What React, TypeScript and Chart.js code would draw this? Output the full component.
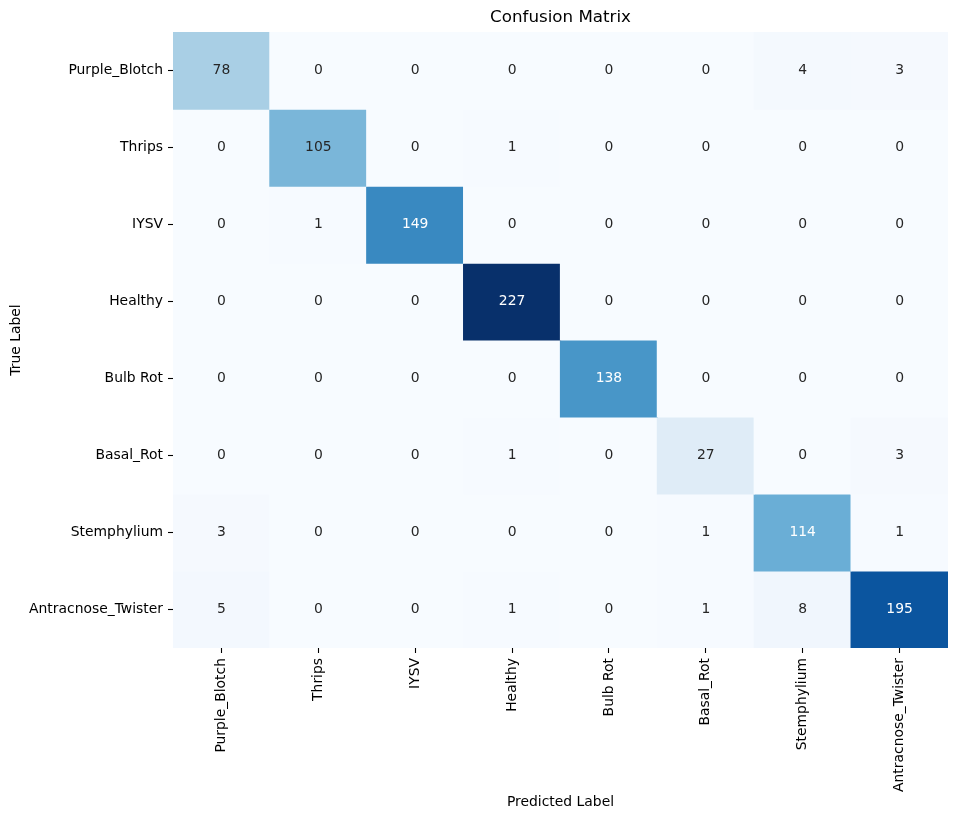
import React, { useEffect, useRef } from "react";
import { Chart, registerables } from "chart.js";

Chart.register(...registerables);

const rowLabels = ["Purple_Blotch", "Thrips", "IYSV", "Healthy", "Bulb Rot", "Basal_Rot", "Stemphylium", "Antracnose_Twister"];
const colLabels = ["Purple_Blotch", "Thrips", "IYSV", "Healthy", "Bulb Rot", "Basal_Rot", "Stemphylium", "Antracnose_Twister"];

const row0 = [78, 0, 0, 0, 0, 0, 4, 3];
const row1 = [0, 105, 0, 1, 0, 0, 0, 0];
const row2 = [0, 1, 149, 0, 0, 0, 0, 0];
const row3 = [0, 0, 0, 227, 0, 0, 0, 0];
const row4 = [0, 0, 0, 0, 138, 0, 0, 0];
const row5 = [0, 0, 0, 1, 0, 27, 0, 3];
const row6 = [3, 0, 0, 0, 0, 1, 114, 1];
const row7 = [5, 0, 0, 1, 0, 1, 8, 195];
const matrix = [row0, row1, row2, row3, row4, row5, row6, row7];

const titleText = "Confusion Matrix";
const xTitle = "Predicted Label";
const yTitle = "True Label";

const BLUES = [
  [0.9686, 0.9843, 1.0],
  [0.8706, 0.9216, 0.9686],
  [0.7765, 0.8588, 0.9373],
  [0.6196, 0.7922, 0.8824],
  [0.4196, 0.6824, 0.8392],
  [0.2588, 0.5725, 0.7765],
  [0.1294, 0.4431, 0.7098],
  [0.0314, 0.3176, 0.6118],
  [0.0314, 0.1882, 0.4196],
];

function blues(v: number): number[] {
  let idx = Math.floor(v * 256);
  if (idx > 255) idx = 255;
  if (idx < 0) idx = 0;
  const t = idx / 255;
  const p = t * (BLUES.length - 1);
  const i = Math.min(Math.floor(p), BLUES.length - 2);
  const f = p - i;
  return [0, 1, 2].map((k) => BLUES[i][k] + (BLUES[i + 1][k] - BLUES[i][k]) * f);
}

function toCss(c: number[]) {
  return `rgb(${Math.round(c[0] * 255)},${Math.round(c[1] * 255)},${Math.round(c[2] * 255)})`;
}

function luminance(c: number[]) {
  const l = c.map((x) => (x <= 0.03928 ? x / 12.92 : Math.pow((x + 0.055) / 1.055, 2.4)));
  return 0.2126 * l[0] + 0.7152 * l[1] + 0.0722 * l[2];
}

const FONT = "'DejaVu Sans', sans-serif";

export default function App() {
  const ref = useRef<HTMLCanvasElement>(null);

  useEffect(() => {
    if (!ref.current) return;
    const all = matrix.flat();
    const vmin = Math.min(...all);
    const vmax = Math.max(...all);
    const norm = (v: number) => (v - vmin) / (vmax - vmin);

    const datasets = matrix.map((row, r) => ({
      label: rowLabels[r],
      data: row.map(() => [r - 0.5, r + 0.5]),
      backgroundColor: row.map((v) => toCss(blues(norm(v)))),
      borderWidth: 0,
      inflateAmount: 0.6,
      categoryPercentage: 1,
      barPercentage: 1,
      grouped: false,
    }));

    const textPlugin = {
      id: "cellText",
      afterDatasetsDraw(chart: any) {
        const ctx = chart.ctx;
        const xs = chart.scales.x;
        const ys = chart.scales.y;
        ctx.save();
        ctx.font = `13.9px ${FONT}`;
        ctx.textAlign = "center";
        ctx.textBaseline = "middle";
        matrix.forEach((row, r) => {
          row.forEach((v, c) => {
            const col = blues(norm(v));
            ctx.fillStyle = luminance(col) > 0.408 ? "#262626" : "#ffffff";
            ctx.fillText(String(v), xs.getPixelForValue(c), ys.getPixelForValue(r));
          });
        });
        ctx.restore();
      },
    };

    const chart = new Chart(ref.current, {
      type: "bar",
      data: { labels: colLabels, datasets: datasets as any },
      options: {
        animation: false,
        responsive: false,
        devicePixelRatio: 1,
        layout: { padding: { left: 0, right: 10, top: 0, bottom: 0 } },
        plugins: {
          legend: { display: false },
          tooltip: { enabled: false },
          title: {
            display: true,
            text: titleText,
            fullSize: false,
            color: "#000",
            font: { family: FONT, size: 16.7, weight: "normal" },
            padding: { top: 8, bottom: 4 },
          },
        },
        scales: {
          x: {
            type: "category",
            offset: true,
            grid: { display: true, drawOnChartArea: false, offset: false, tickLength: 5, tickColor: "#000", tickWidth: 1.1 },
            border: { display: false },
            ticks: {
              color: "#000",
              font: { family: FONT, size: 13.9 },
              minRotation: 90,
              maxRotation: 90,
              autoSkip: false,
              padding: 5,
            },
            title: { display: true, text: xTitle, color: "#000", font: { family: FONT, size: 13.9 }, padding: { top: 10, bottom: 10 } },
            afterFit(scale: any) {
              scale.height = 173;
            },
          },
          y: {
            type: "linear",
            min: -0.5,
            max: rowLabels.length - 0.5,
            reverse: true,
            grid: { display: true, drawOnChartArea: false, tickLength: 5, tickColor: "#000", tickWidth: 1.1 },
            border: { display: false },
            afterBuildTicks(scale: any) {
              scale.ticks = rowLabels.map((_, i) => ({ value: i }));
            },
            ticks: {
              color: "#000",
              font: { family: FONT, size: 13.9 },
              padding: 5,
              autoSkip: false,
              callback: (v: any) => rowLabels[v as number] ?? "",
            },
            title: { display: true, text: yTitle, color: "#000", font: { family: FONT, size: 13.9 }, padding: { top: 8, bottom: 8 } },
            afterFit(scale: any) {
              scale.width = 173;
            },
          },
        },
      } as any,
      plugins: [textPlugin],
    });
    return () => chart.destroy();
  }, []);

  return (
    <div style={{ position: "absolute", left: 0, top: 0, width: 958, height: 821, background: "#fff" }}>
      <canvas ref={ref} width={958} height={821} style={{ width: 958, height: 821, display: "block" }} />
    </div>
  );
}
